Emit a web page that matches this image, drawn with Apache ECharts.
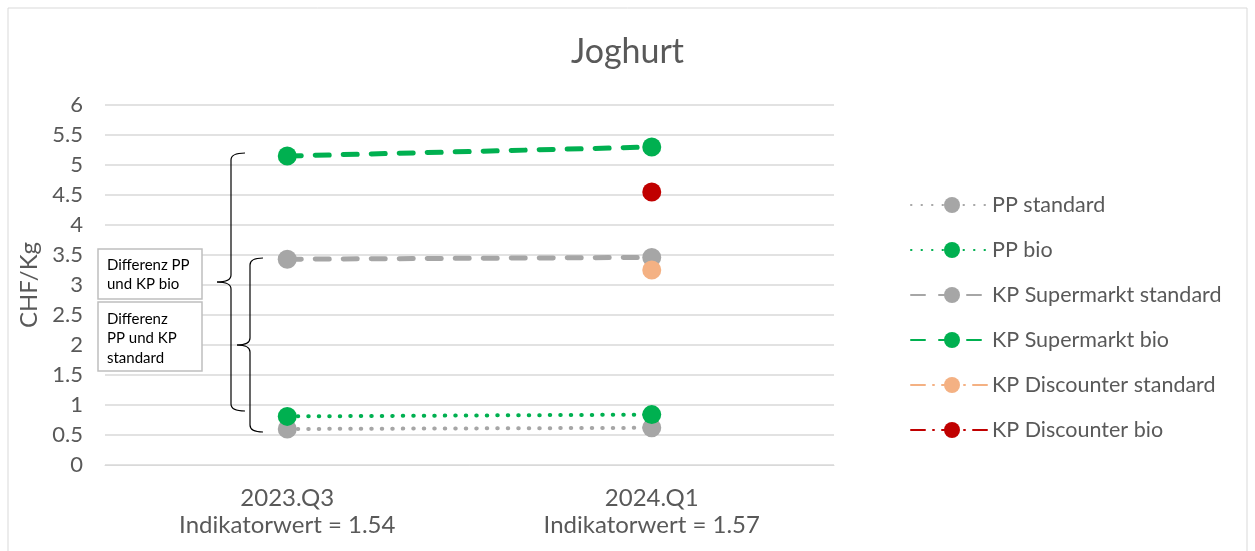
<!DOCTYPE html>
<html>
<head>
<meta charset="utf-8">
<script src="https://cdn.jsdelivr.net/npm/echarts@6/dist/echarts.min.js"></script>
<style>
  html, body { margin: 0; padding: 0; background: #fff; }
  #main { width: 1255px; height: 551px; }
</style>
</head>
<body>
<div id="main"></div>
<script>
var categories = ['2023.Q3\nIndikatorwert = 1.54', '2024.Q1\nIndikatorwert = 1.57'];
var ppStandard = [0.6, 0.62];
var ppBio = [0.81, 0.84];
var kpSuperStandard = [3.43, 3.46];
var kpSuperBio = [5.15, 5.3];
var kpDiscStandard = [null, 3.25];
var kpDiscBio = [null, 4.55];
var yTicks = { min: 0, max: 6, interval: 0.5 };

var txt = '#595959';
var font = 'Lato, "Open Sans", sans-serif';

var ec = echarts.init(document.getElementById('main'));

function line(name, data, color, type, width) {
    return {
        name: name,
        type: 'line',
        data: data,
        symbol: 'circle',
        symbolSize: 19,
        showAllSymbol: true,
        connectNulls: false,
        itemStyle: { color: color },
        lineStyle: { color: color, width: width, type: type, cap: 'round' },
        z: 3
    };
}

ec.setOption({
    animation: false,
    textStyle: { fontFamily: font },
    title: {
        text: 'Joghurt',
        left: 'center',
        top: 30,
        textStyle: { fontSize: 34, fontWeight: 'normal', color: txt, fontFamily: font }
    },
    grid: { left: 105, right: 421, top: 105, bottom: 86, containLabel: false },
    legend: {
        orient: 'vertical',
        left: 905,
        top: 189,
        itemWidth: 82,
        itemHeight: 20,
        itemGap: 23,
        textStyle: { color: txt, fontSize: 21.5, fontFamily: font, padding: [0, 0, 0, -6] },
        data: ['PP standard', 'PP bio', 'KP Supermarkt standard', 'KP Supermarkt bio',
               'KP Discounter standard', 'KP Discounter bio']
    },
    xAxis: {
        type: 'category',
        data: categories,
        boundaryGap: true,
        axisLine: { lineStyle: { color: '#d9d9d9', width: 1 } },
        axisTick: { show: false },
        axisLabel: { color: txt, fontSize: 24, lineHeight: 27, margin: 20, fontFamily: font }
    },
    yAxis: {
        type: 'value',
        min: yTicks.min,
        max: yTicks.max,
        interval: yTicks.interval,
        name: 'CHF/Kg',
        nameLocation: 'middle',
        nameGap: 62,
        nameTextStyle: { color: txt, fontSize: 24, fontFamily: font },
        axisLine: { show: false },
        axisTick: { show: false },
        axisLabel: { color: txt, fontSize: 22, margin: 22, fontFamily: font },
        splitLine: { lineStyle: { color: '#d9d9d9', width: 1.5 } }
    },
    series: [
        line('PP standard', ppStandard, '#a6a6a6', [0.5, 10], 4),
        line('PP bio', ppBio, '#00b050', [0.5, 10], 4),
        line('KP Supermarkt standard', kpSuperStandard, '#a6a6a6', [14, 14], 5),
        line('KP Supermarkt bio', kpSuperBio, '#00b050', [14, 14], 5),
        line('KP Discounter standard', kpDiscStandard, '#f4b183', [14, 8, 1, 8], 5),
        line('KP Discounter bio', kpDiscBio, '#c00000', [14, 8, 1, 8], 5)
    ]
});

// curly brace made of curves and lines, placed from data values
var braceStyle = { fill: null, stroke: '#000', lineWidth: 1.2 };
function brace(x, yTop, yBot, w) {
    var t = ec.convertToPixel({ yAxisIndex: 0 }, yTop);
    var b = ec.convertToPixel({ yAxisIndex: 0 }, yBot);
    var m = (t + b) / 2;
    var r = 7;
    var parts = [
        { type: 'bezierCurve', shape: { x1: x + w, y1: t, cpx1: x, cpy1: t, x2: x, y2: t + r } },
        { type: 'line', shape: { x1: x, y1: t + r, x2: x, y2: m - r } },
        { type: 'bezierCurve', shape: { x1: x, y1: m - r, cpx1: x, cpy1: m, x2: x - w, y2: m } },
        { type: 'bezierCurve', shape: { x1: x - w, y1: m, cpx1: x, cpy1: m, x2: x, y2: m + r } },
        { type: 'line', shape: { x1: x, y1: m + r, x2: x, y2: b - r } },
        { type: 'bezierCurve', shape: { x1: x, y1: b - r, cpx1: x, cpy1: b, x2: x + w, y2: b } }
    ];
    parts.forEach(function (p) { p.style = braceStyle; p.z = 10; p.silent = true; });
    return parts;
}

var boxStyle = { fill: '#fff', stroke: '#bfbfbf', lineWidth: 1.5 };
var boxText = { fill: '#000', fontSize: 15, lineHeight: 19.5, fontFamily: font };

var graphics = [
    { type: 'rect', shape: { x: 8, y: 8, width: 1239, height: 560 }, style: { fill: null, stroke: '#d9d9d9', lineWidth: 1 }, silent: true }
].concat(brace(231, 5.2, 0.9, 14), brace(250, 3.45, 0.55, 13), [
    { type: 'rect', shape: { x: 98, y: 249, width: 104, height: 50 }, style: boxStyle, z: 11 },
    { type: 'text', x: 107, y: 255, style: Object.assign({ text: 'Differenz PP\nund KP bio' }, boxText), z: 12 },
    { type: 'rect', shape: { x: 98, y: 302, width: 104, height: 69 }, style: boxStyle, z: 11 },
    { type: 'text', x: 107, y: 309, style: Object.assign({ text: 'Differenz\nPP und KP\nstandard' }, boxText), z: 12 }
]);

ec.setOption({ graphic: graphics });
</script>
</body>
</html>
